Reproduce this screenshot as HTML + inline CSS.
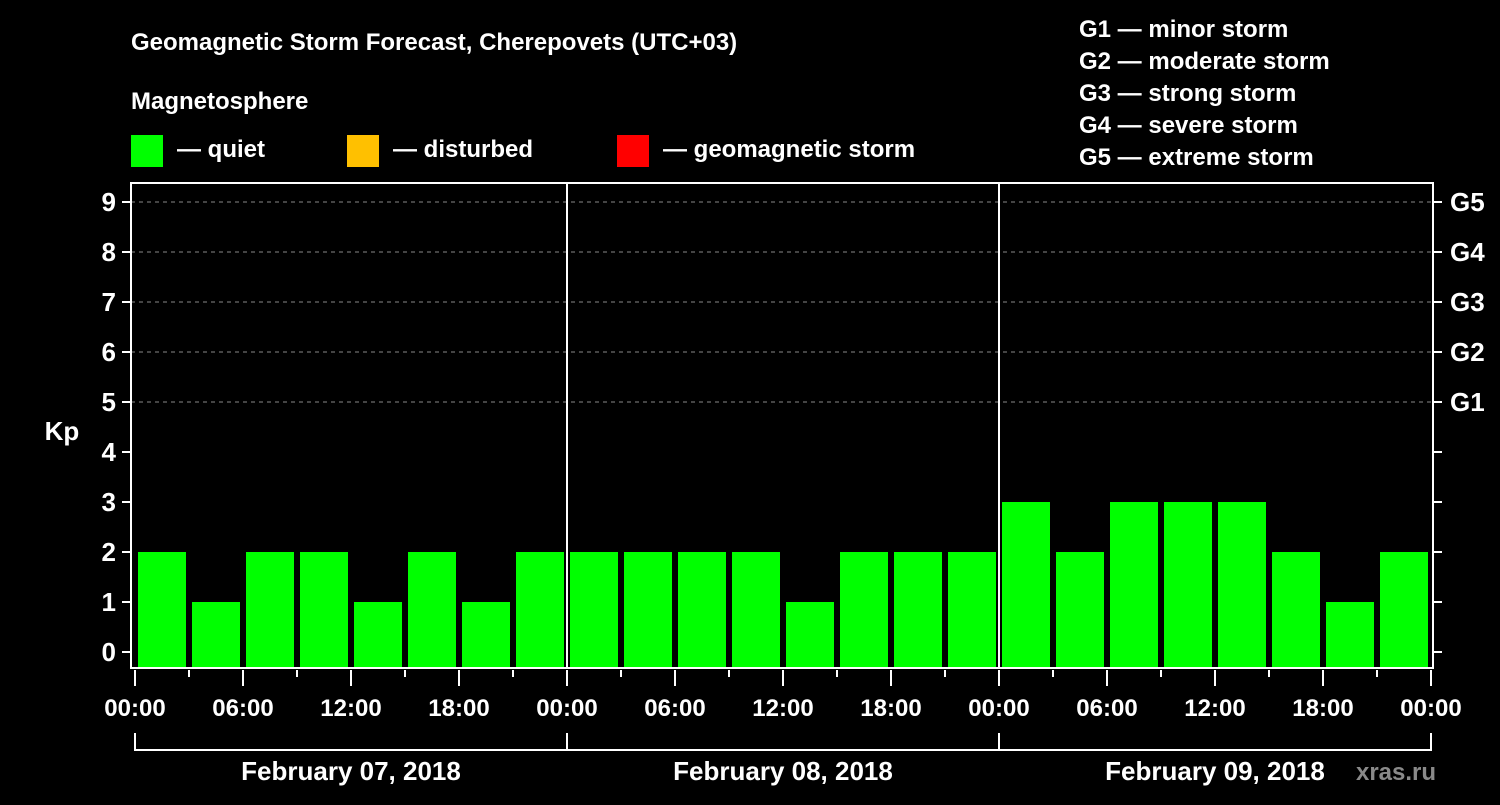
<!DOCTYPE html>
<html><head><meta charset="utf-8"><style>
body{margin:0;background:#000;width:1500px;height:800px;overflow:hidden}
svg text{font-family:"Liberation Sans",sans-serif;font-weight:bold;fill:#fff}
</style></head><body>
<svg id="c" width="1500" height="800" xmlns="http://www.w3.org/2000/svg">
<text x="131" y="50" font-size="24">Geomagnetic Storm Forecast, Cherepovets (UTC+03)</text>
<text x="131" y="109" font-size="24">Magnetosphere</text>
<g><rect x="131" y="135" width="32" height="32" fill="#00ff00"/><text x="177" y="157" font-size="24">— quiet</text></g>
<g><rect x="347" y="135" width="32" height="32" fill="#ffc000"/><text x="393" y="157" font-size="24">— disturbed</text></g>
<g><rect x="617" y="135" width="32" height="32" fill="#ff0000"/><text x="663" y="157" font-size="24">— geomagnetic storm</text></g>
<g font-size="24">
<text x="1079" y="37">G1 — minor storm</text>
<text x="1079" y="69">G2 — moderate storm</text>
<text x="1079" y="101">G3 — strong storm</text>
<text x="1079" y="133">G4 — severe storm</text>
<text x="1079" y="165">G5 — extreme storm</text>
</g>
<text x="62" y="440" font-size="26" text-anchor="middle">Kp</text>
<g id="grid"></g><g id="bars"></g><g id="axes"></g>
<text x="1396" y="780" font-size="24" fill="#888" style="fill:#8a8a8a" text-anchor="middle">xras.ru</text>
</svg>
<script>
const days=["February 07, 2018","February 08, 2018","February 09, 2018"];
const kpValues=[2,1,2,2,1,2,1,2, 2,2,2,2,1,2,2,2, 3,2,3,3,3,2,1,2];
const yTicks=[0,1,2,3,4,5,6,7,8,9];
const gLabels=["G1","G2","G3","G4","G5"];
const timeLabels=["00:00","06:00","12:00","18:00"];
const NS="http://www.w3.org/2000/svg";
const L=131,R=1433,T=183,B=668,X0=135,SLOT=54;
const y=v=>652-50*v;
const x=i=>X0+i*SLOT;
function mk(p,tag,a,txt){const e=document.createElementNS(NS,tag);for(const k in a)e.setAttribute(k,a[k]);if(txt!==undefined)e.textContent=txt;document.getElementById(p).appendChild(e);return e;}
const col=v=>v>=5?"#ff0000":v>=4?"#ffc000":"#00ff00";
// grid
for(let v=5;v<=9;v++){const e=mk("grid","line",{x1:L,x2:R,y1:y(v),y2:y(v),stroke:"#888","stroke-dasharray":"4,4","stroke-width":1});

}
// bars
kpValues.forEach((v,i)=>{const e=mk("bars","rect",{x:x(i)+3,y:y(v),width:48,height:B-y(v),fill:col(v)});

});
// axes frame
const f=mk("axes","rect",{x:L,y:T,width:R-L,height:B-T,fill:"none",stroke:"#fff","stroke-width":2});


for(let d=1;d<days.length;d++){const e=mk("axes","line",{x1:x(d*8),x2:x(d*8),y1:T,y2:B,stroke:"#fff","stroke-width":2});

}
yTicks.forEach(v=>{mk("axes","line",{x1:122,x2:L,y1:y(v),y2:y(v),stroke:"#fff","stroke-width":2});
mk("axes","line",{x1:R,x2:1442,y1:y(v),y2:y(v),stroke:"#fff","stroke-width":2});
const t=mk("axes","text",{x:116,y:y(v)+9,"font-size":26,"text-anchor":"end"},String(v));

});
gLabels.forEach((g,i)=>{const t=mk("axes","text",{x:1450,y:y(5+i)+9,"font-size":26},g);

});
for(let i=0;i<=kpValues.length;i++){const major=i%2===0;
mk("axes","line",{x1:x(i),x2:x(i),y1:B+2,y2:major?686:677,stroke:"#fff","stroke-width":2});
if(major){const t=mk("axes","text",{x:x(i),y:716,"font-size":24,"text-anchor":"middle"},timeLabels[(i/2)%4]);

}}
days.forEach((d,k)=>{mk("axes","path",{d:`M${x(k*8)},733V750H${x(k*8+8)}`+(k===days.length-1?`V733`:``),fill:"none",stroke:"#fff","stroke-width":2});
const t=mk("axes","text",{x:x(k*8+4),y:780,"font-size":26,"text-anchor":"middle"},d);

});
</script>
</body></html>
